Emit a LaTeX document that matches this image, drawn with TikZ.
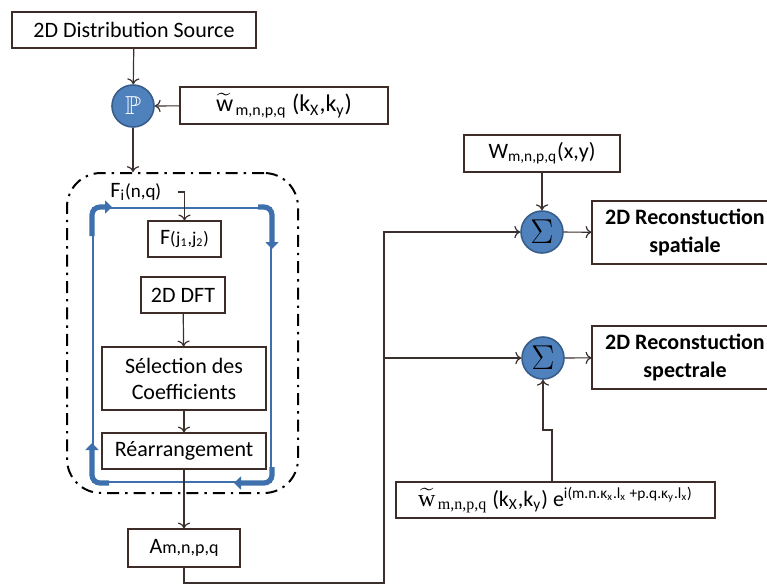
\documentclass[tikz,border=0pt]{standalone}
\usepackage{amssymb}
\usepackage{fontspec}
\setmainfont{Carlito}
\newfontfamily\serifw{Liberation Serif}
\usetikzlibrary{arrows.meta}

\definecolor{boxline}{RGB}{62,44,40}
\definecolor{wire}{RGB}{58,48,46}
\definecolor{sumfill}{RGB}{79,129,189}
\definecolor{sumline}{RGB}{56,93,138}
\definecolor{loopblue}{RGB}{61,112,172}

\newcommand{\tildew}{$\widetilde{\mbox{w}}$\kern1.2pt}

\begin{document}
\begin{tikzpicture}[x=0.5pt,y=-0.5pt,
    every node/.style={font=\fontsize{11}{13}\selectfont},
    blk/.style={draw=boxline,line width=0.6pt,align=center,inner sep=2pt},
    sumnode/.style={circle,fill=sumfill,draw=sumline,line width=0.8pt,minimum size=21pt,inner sep=0pt},
    conn/.style={draw=wire,line width=0.6pt},
    loopthin/.style={draw=loopblue,line width=1pt},
    loopbold/.style={draw=loopblue,line width=2.6pt,rounded corners=4pt,-{Triangle[length=3.5pt,width=6.5pt]}}]
  \useasboundingbox (0,0) rectangle (767,586);

  % Left column
  \node[blk,minimum width=122pt,minimum height=18pt] (source) at (134,30) {2D Distribution Source};
  \node[sumnode] (prod) at (133,106) {\fontsize{13}{13}\selectfont\textcolor{white}{$\mathbb{P}$}};
  \node[blk,minimum width=104pt,minimum height=18.5pt] (wkk) at (284,105.5)
    {\fontsize{12}{14}\selectfont\tildew\textsubscript{m,n,p,q} (k\textsubscript{X},k\textsubscript{y})};

  % Dash-dot frame and blue loop
  \node[draw=black,line width=1pt,dash pattern=on 6pt off 3pt on 1.2pt off 3pt,
    rounded corners=17pt,minimum width=115.5pt,minimum height=160pt,inner sep=0pt] (frame) at (182.5,333) {};
  \node[loopthin,minimum width=89pt,minimum height=137pt,inner sep=0pt] (loop) at (182,345) {};
  \draw[loopbold] ([yshift=-14.5pt]loop.north west) |- ([xshift=10pt]loop.north west);
  \draw[loopbold] ([xshift=-7pt]loop.north east) -| ([yshift=-21pt]loop.north east);
  \draw[loopbold] ([yshift=8pt]loop.south east) |- ([xshift=-19pt]loop.south east);
  \draw[loopbold] ([xshift=8.5pt]loop.south west) -| ([yshift=20pt]loop.south west);

  \node[anchor=west,inner sep=0pt] (fi) at (110,192) {F\textsubscript{i}{\fontsize{9.5}{11}\selectfont(n,q)}};
  \node[blk,minimum width=36.5pt,minimum height=18pt] (fj) at (184.5,239)
    {F{\fontsize{9}{11}\selectfont(j\textsubscript{1},j\textsubscript{2})}};
  \node[blk,minimum width=42pt,minimum height=18pt] (dft) at (183,295) {2D DFT};
  \node[blk,minimum width=82pt,minimum height=31.5pt] (sel) at (184,378.5) {Sélection des\\Coefficients};
  \node[blk,minimum width=82pt,minimum height=18pt] (rearr) at (184,451) {Réarrangement};
  \node[blk,minimum width=56pt,minimum height=19pt] (amnpq) at (184,548) {A{\fontsize{9}{11}\selectfont m,n,p,q}};

  % Right column
  \node[blk,minimum width=78pt,minimum height=18.5pt] (wxy) at (542,153.5) {W\textsubscript{m,n,p,q}(x,y)};
  \node[sumnode] (sum1) at (542,232) {\fontsize{17}{17}\selectfont$\Sigma$};
  \node[sumnode] (sum2) at (543,358) {\fontsize{17}{17}\selectfont$\Sigma$};
  \node[blk,font=\fontsize{11}{14}\selectfont\bfseries,minimum width=93pt,minimum height=31.5pt] (rspat) at (685,232.5)
    {2D Reconstuction\\spatiale};
  \node[blk,font=\fontsize{11}{14}\selectfont\bfseries,minimum width=93pt,minimum height=31.5pt] (rspec) at (685,357.5)
    {2D Reconstuction\\spectrale};
  \node[blk,minimum width=159.5pt,minimum height=18pt] (wexp) at (555.5,500)
    {{\serifw\fontsize{12}{14}\selectfont\tildew\textsubscript{m,n,p,q}} (k\textsubscript{X},k\textsubscript{y})
     e\textsuperscript{i(m.n.κ\textsubscript{x}.l\textsubscript{x} +p.q.κ\textsubscript{y}.l\textsubscript{x})}};

  \coordinate (bus) at (384,583);
  \coordinate (jog) at (552,430);

  % Connectors
  \draw[conn,->] (source) -- (prod);
  \draw[conn,->] (wkk) -- (prod);
  \draw[conn,->] (prod) -- (prod |- frame.north);
  \draw[conn,->] ([xshift=8pt]fi.east) -| (fj.north);
  \draw[conn,->] (dft) -- (sel);
  \draw[conn,->] (sel) -- (rearr);
  \draw[conn,->] (rearr) -- (amnpq);
  \draw[conn,->] (amnpq.south) |- (bus) |- (sum1.west);
  \draw[conn,->] (bus |- sum2) -- (sum2.west);
  \draw[conn,->] (wxy) -- (sum1);
  \draw[conn,->] (sum1) -- (rspat);
  \draw[conn,->] (sum2) -- (rspec);
  \draw[conn,->] (wexp.north -| jog) -- (jog) -| (sum2.south);
\end{tikzpicture}
\end{document}
